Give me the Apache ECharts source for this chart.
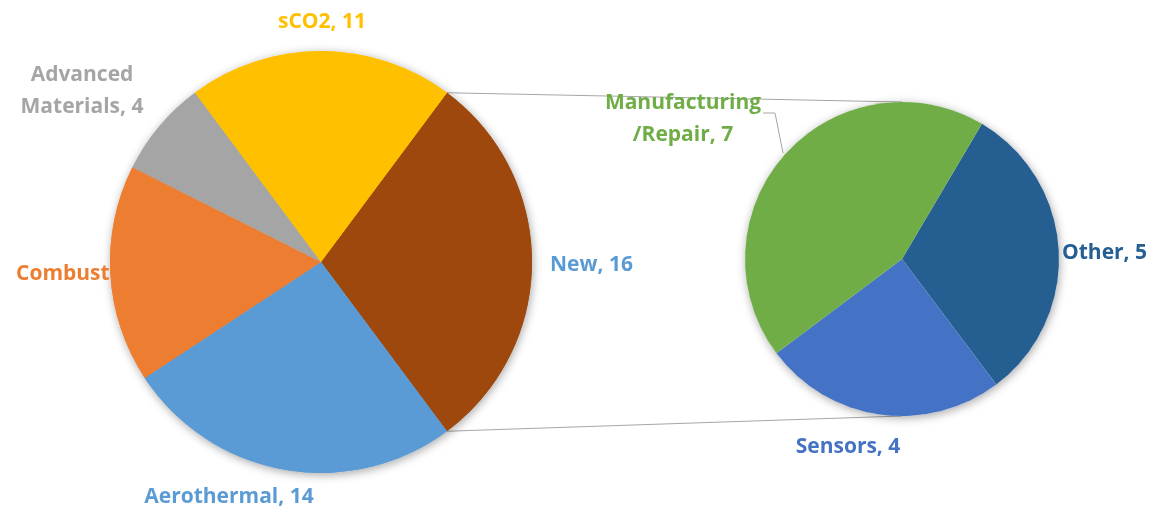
<!DOCTYPE html>
<html>
<head>
<meta charset="utf-8">
<script src="https://cdn.jsdelivr.net/npm/echarts@6/dist/echarts.min.js"></script>
<style>
html,body{margin:0;padding:0;background:#fff;}
#chart{width:1158px;height:512px;}
</style>
</head>
<body>
<div id="chart"></div>
<script>
// ---- data ----
const mainNames = ['New', 'Aerothermal', 'Combustion', 'Advanced Materials', 'sCO2'];
const mainValues = [16, 14, 9, 4, 11];
const subNames = ['Other', 'Sensors', 'Manufacturing/Repair'];
const subValues = [5, 4, 7];

// ---- styling / layout ----
const mainColors = ['#9E480E', '#5B9BD5', '#ED7D31', '#A5A5A5', '#FFC000'];
const mainLabelColors = ['#5B9BD5', '#5B9BD5', '#ED7D31', '#A5A5A5', '#FFC000'];
const subColors = ['#255E91', '#4472C4', '#70AD47'];
const labelBreaks = {'Advanced Materials': 'Advanced\nMaterials', 'Manufacturing/Repair': 'Manufacturing\n/Repair'};

const c1 = [321, 262], r1 = 211;
const c2 = [902, 259], r2 = 157;

const total1 = mainValues.reduce((a, b) => a + b, 0);
const total2 = subValues.reduce((a, b) => a + b, 0);
const newSpan = mainValues[0] / total1 * 360;
const start1 = newSpan / 2;          // split slice centred on the horizontal
const start2 = 59.4;

const mainLabelPos = [
  {x: 550, y: 265, align: 'left'},
  {x: 229, y: 497, align: 'center'},
  {x: 16, y: 274, align: 'left'},
  {x: 82, y: 91, align: 'center'},
  {x: 322, y: 22, align: 'center'}
];
const subLabelPos = [
  {x: 1062, y: 253, align: 'left'},
  {x: 848, y: 447, align: 'center'},
  {x: 683, y: 119, align: 'center'}
];

const font = '"Open Sans", sans-serif';
function fmt(p) {
  const n = labelBreaks[p.name] || p.name;
  return n + ', ' + p.value;
}

const mainData = mainNames.map((n, i) => ({
  name: n, value: mainValues[i],
  itemStyle: {color: mainColors[i]},
  label: {color: mainLabelColors[i]}
}));
const subData = subNames.map((n, i) => ({
  name: n, value: subValues[i],
  itemStyle: {color: subColors[i]},
  label: {color: subColors[i]},
  labelLine: {show: n === 'Manufacturing/Repair'}
}));

function pt(c, r, deg) {
  const a = deg * Math.PI / 180;
  return [c[0] + r * Math.cos(a), c[1] - r * Math.sin(a)];
}
const pTop = pt(c1, r1, start1);
const pBot = pt(c1, r1, start1 - newSpan);

const labelStyle = {fontFamily: font, fontWeight: 'bold', fontSize: 21, lineHeight: 32};

const chart = echarts.init(document.getElementById('chart'), null, {renderer: 'canvas'});
chart.setOption({
  backgroundColor: '#fff',
  animation: false,
  graphic: [
    {type: 'line', z: 0, shape: {x1: pTop[0], y1: pTop[1], x2: c2[0], y2: c2[1] - r2},
     style: {stroke: '#A6A6A6', lineWidth: 1}},
    {type: 'line', z: 0, shape: {x1: pBot[0], y1: pBot[1], x2: c2[0], y2: c2[1] + r2},
     style: {stroke: '#A6A6A6', lineWidth: 1}}
  ],
  series: [
    { // shadow disc under main pie
      type: 'pie', z: 1, silent: true, center: c1, radius: r1,
      label: {show: false}, labelLine: {show: false},
      data: [{value: total1, itemStyle: {color: '#ffffff', shadowBlur: 10, shadowColor: 'rgba(0,0,0,0.35)', shadowOffsetX: 1, shadowOffsetY: 2}}]
    },
    { // shadow disc under second pie
      type: 'pie', z: 1, silent: true, center: c2, radius: r2,
      label: {show: false}, labelLine: {show: false},
      data: [{value: total2, itemStyle: {color: '#ffffff', shadowBlur: 10, shadowColor: 'rgba(0,0,0,0.35)', shadowOffsetX: 1, shadowOffsetY: 2}}]
    },
    { // main pie with labels (labels sit beneath the covering copy)
      type: 'pie', z: 2, center: c1, radius: r1, startAngle: start1, clockwise: true,
      avoidLabelOverlap: false,
      itemStyle: {borderWidth: 0},
      label: Object.assign({show: true, formatter: fmt}, labelStyle),
      labelLine: {show: false},
      labelLayout: p => Object.assign({verticalAlign: 'middle'}, mainLabelPos[p.dataIndex]),
      data: mainData
    },
    { // covering copy of main pie (hides part of the Combustion label as in the original)
      type: 'pie', z: 4, silent: true, center: c1, radius: r1, startAngle: start1, clockwise: true,
      itemStyle: {borderWidth: 0},
      label: {show: false}, labelLine: {show: false},
      data: mainNames.map((n, i) => ({name: n, value: mainValues[i], itemStyle: {color: mainColors[i]}}))
    },
    { // second pie
      type: 'pie', z: 3, center: c2, radius: r2, startAngle: start2, clockwise: true,
      avoidLabelOverlap: false,
      itemStyle: {borderWidth: 0},
      label: Object.assign({show: true, formatter: fmt}, labelStyle),
      labelLine: {show: false, lineStyle: {color: '#A6A6A6', width: 1}},
      labelLayout: p => {
        const o = Object.assign({verticalAlign: 'middle'}, subLabelPos[p.dataIndex]);
        if (subNames[p.dataIndex] === 'Manufacturing/Repair') {
          o.labelLinePoints = [[763, 113], [775, 113], [783, 153]];
        }
        return o;
      },
      data: subData
    }
  ]
});
</script>
</body>
</html>
